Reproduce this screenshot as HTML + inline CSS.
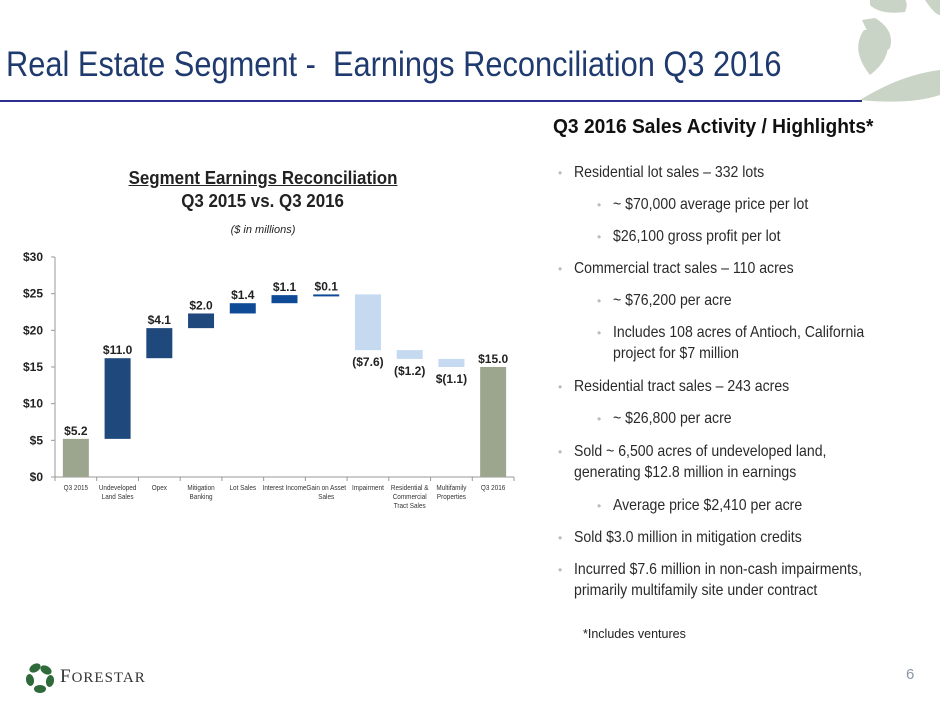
<!DOCTYPE html>
<html><head><meta charset="utf-8"><style>
body{margin:0;background:#fff;}
#slide{position:relative;width:940px;height:705px;overflow:hidden;font-family:"Liberation Sans",Arial,sans-serif;background:#fff;}
.t{position:absolute;white-space:nowrap;}
.n{display:inline-block;transform:scaleX(0.86);transform-origin:0 0;}
.c{display:inline-block;transform-origin:50% 0;}
.b{position:absolute;font-size:16px;color:#2a2a2a;white-space:nowrap;}
.b .n{transform:scaleX(0.88);}
.b .d{position:absolute;left:-16px;color:#bbbbbb;font-size:12px;top:2px;}
</style></head><body>
<div id="slide">
<svg style="position:absolute;left:0;top:0" width="940" height="705">
  <g fill="#c9d4c6">
    <path d="M862,20 Q880,60 890,48 Q895,30 875,18 Z"/>
    <path d="M864,30 Q850,50 870,75 Q890,60 888,40 Q878,28 864,30Z"/>
    <path d="M870,5 Q880,15 905,12 Q910,0 900,-5 L870,-5Z"/>
    <path d="M925,0 Q935,15 940,15 L940,0Z"/>
    <path d="M860,100 Q900,75 940,70 L940,95 Q910,105 860,100Z"/>
  </g>
  <line x1="0" y1="101" x2="862" y2="101" stroke="#2e2e8f" stroke-width="2"/>
  <g fill="#2f6a3a">
    <ellipse cx="35" cy="668" rx="6" ry="4" transform="rotate(-30 35 668)"/>
    <ellipse cx="46" cy="670" rx="6" ry="4" transform="rotate(30 46 670)"/>
    <ellipse cx="30" cy="680" rx="6" ry="4" transform="rotate(80 30 680)"/>
    <ellipse cx="50" cy="681" rx="6" ry="4" transform="rotate(-80 50 681)"/>
    <ellipse cx="40" cy="689" rx="6" ry="4"/>
  </g>
  <g id="chart"></g>
</svg>
<div class="t" style="left:6px;top:45px;font-size:35px;color:#1f3a6e;"><span class="n" style="transform:scaleX(0.88)">Real Estate Segment -&nbsp; Earnings Reconciliation Q3 2016</span></div>
<div class="t" style="left:60px;top:666px;font-family:'Liberation Serif',serif;font-size:19px;color:#333;letter-spacing:1px">F<span style="font-size:15px">ORESTAR</span></div>
<div class="t" style="left:906px;top:666px;font-size:15px;color:#8a96a8">6</div>

<div class="t" style="left:88px;top:168px;width:350px;text-align:center;font-size:18px;font-weight:bold;color:#222"><span class="c" style="text-decoration:underline;transform:scaleX(0.94)">Segment Earnings Reconciliation</span></div>
<div class="t" style="left:88px;top:191px;width:350px;text-align:center;font-size:18px;font-weight:bold;color:#222"><span class="c" style="transform:scaleX(0.94)">Q3 2015 vs. Q3 2016</span></div>
<div class="t" style="left:88px;top:224px;width:350px;text-align:center;font-size:11px;font-style:italic;color:#222">($ in millions)</div>

<div class="t" style="left:553px;top:116px;font-size:20px;font-weight:bold;color:#111;text-decoration:underline"><span class="n" style="transform:scaleX(0.96)">Q3 2016 Sales Activity / Highlights*</span></div>
<div id="bul"></div>
<div class="t" style="left:583px;top:627px;font-size:12.5px;color:#222">*Includes ventures</div>
</div>
<script>
const categories=["Q3 2015","Undeveloped|Land Sales","Opex","Mitigation|Banking","Lot Sales","Interest Income","Gain on Asset|Sales","Impairment","Residential &|Commercial|Tract Sales","Multifamily|Properties","Q3 2016"];
const values=[5.2,11.0,4.1,2.0,1.4,1.1,0.1,-7.6,-1.2,-1.1,15.0];
const valueLabels=["$5.2","$11.0","$4.1","$2.0","$1.4","$1.1","$0.1","($7.6)","($1.2)","$(1.1)","$15.0"];
const kinds=["total","up","up","up","up","up","up","down","down","down","total"];
const yTicks=[0,5,10,15,20,25,30];
const NS="http://www.w3.org/2000/svg";
const g=document.getElementById('chart');
const x0=55,x1=514,yB=477,yT=257,yMax=30;
const step=(x1-x0)/categories.length;
const xc=i=>x0+step*(i+0.5);
const y=v=>yB-(v/yMax)*(yB-yT);
function mk(t,a){const e=document.createElementNS(NS,t);for(const k in a)e.setAttribute(k,a[k]);g.appendChild(e);return e;}
let ax=mk('line',{x1:x0,y1:yT,x2:x0,y2:yB,stroke:'#999'});

let bx=mk('line',{x1:x0,y1:yB,x2:x1,y2:yB,stroke:'#999'});

yTicks.forEach(v=>{
  const tk=mk('line',{x1:x0-4,y1:y(v),x2:x0,y2:y(v),stroke:'#999'});
  
  const t=mk('text',{x:x0-12,y:y(v)+4,'text-anchor':'end','font-size':12,'font-weight':'bold',fill:'#222','font-family':'Liberation Sans, sans-serif'});
  t.textContent='$'+v;
  
});
for(let i=0;i<=categories.length;i++){const l=mk('line',{x1:x0+step*i,y1:yB,x2:x0+step*i,y2:yB+4,stroke:'#999'});}
let cum=0;const bw=26;
values.forEach((v,i)=>{
  let lo,hi,fill;
  if(kinds[i]==='total'){lo=0;hi=v;cum=v;fill='#9ca68f';}
  else{const s=cum;cum+=v;lo=Math.min(s,cum);hi=Math.max(s,cum);fill=kinds[i]==='down'?'#c5d9f1':(i>=4?'#0f4a96':'#1f497d');}
  const r=mk('rect',{x:xc(i)-bw/2,y:y(hi),width:bw,height:Math.max(y(lo)-y(hi),2),fill:fill});
  
  const ly=kinds[i]==='down'?y(lo)+16:y(hi)-4;
  const t=mk('text',{x:xc(i),y:ly,'text-anchor':'middle','font-size':12,'font-weight':'bold',fill:'#222','font-family':'Liberation Sans, sans-serif'});
  t.textContent=valueLabels[i];
  
  categories[i].split('|').forEach((s,j)=>{
    const c=mk('text',{x:0,y:0,'text-anchor':'middle','font-size':7.5,fill:'#333','font-family':'Liberation Sans, sans-serif',transform:'translate('+xc(i)+','+(yB+13+j*9)+') scale(0.85,1)'});
    c.textContent=s;
    
  });
});
const bullets=[[0,174,"Residential lot sales – 332 lots"],[1,206,"~ $70,000 average price per lot"],[1,238,"$26,100 gross profit per lot"],[0,270,"Commercial tract sales – 110 acres"],[1,302,"~ $76,200 per acre"],[1,334,"Includes 108 acres of Antioch, California"],[2,355,"project for $7 million"],[0,388,"Residential tract sales – 243 acres"],[1,420,"~ $26,800 per acre"],[0,453,"Sold ~ 6,500 acres of undeveloped land,"],[3,474,"generating $12.8 million in earnings"],[1,507,"Average price $2,410 per acre"],[0,539,"Sold $3.0 million in mitigation credits"],[0,571,"Incurred $7.6 million in non-cash impairments,"],[3,592,"primarily multifamily site under contract"]];
const bl=document.getElementById('bul');
bullets.forEach(b=>{
  const d=document.createElement('div');d.className='b';
  
  
  const left=(b[0]===1||b[0]===2)?613:574;
  d.style.left=left+'px';d.style.top=(b[1]-10)+'px';
  d.innerHTML=(b[0]<2?'<span class="d">•</span>':'')+'<span class="n">'+b[2]+'</span>';
  bl.appendChild(d);
});
</script>
</body></html>
